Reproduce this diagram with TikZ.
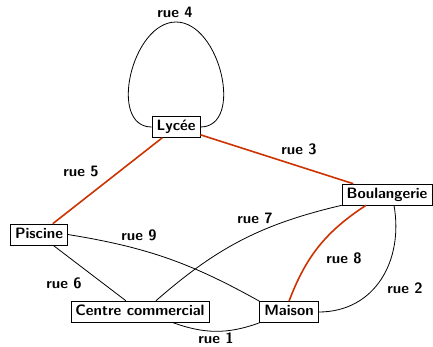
\documentclass[tikz,border=0pt]{standalone}
\begin{document}
\begin{tikzpicture}[x=1pt,y=-1pt,
  place/.style={draw,line width=0.8pt,fill=white,inner xsep=4.5pt,inner ysep=3.5pt,text height=10.8pt,text depth=3pt,font=\fontsize{15}{17}\sffamily\bfseries},
  lbl/.style={font=\fontsize{15}{17}\sffamily\bfseries},
  road/.style={line width=0.8pt},
  hot/.style={line width=1.6pt,draw={rgb,255:red,204;green,51;blue,0}}]
\useasboundingbox (0,0) rectangle (433,346);
\node[place] (ly) at (176,127) {Lycée};
\node[place] (bo) at (387,194.5) {Boulangerie};
\node[place] (pi) at (39,234.5) {Piscine};
\node[place] (cc) at (140,311.5) {Centre commercial};
\node[place] (ma) at (289,312) {Maison};
\coordinate (top) at (176,22);
% edges
\draw[road] (ly.west) to[out=180,in=180,looseness=1.05] (top) to[out=0,in=0,looseness=1.05] (ly.east);
\draw[hot] (ly) -- (pi);
\draw[hot] (ly) -- (bo);
\draw[road] (pi) -- (cc);
\draw[road] (pi.east) to[bend left=10] (ma.north west);
\draw[road] ([xshift=16pt]cc.north) to[bend left=14] (bo.south west);
\draw[hot] (ma.north) to[bend left=18] ([xshift=-21pt]bo.south);
\draw[road] ([xshift=7pt]bo.south) to[out=-80,in=0,looseness=1.1] (ma.east);
\draw[road] ([xshift=32pt]cc.south) to[out=-20,in=-160] (ma.south west);
% labels
\node[lbl] (l4) at (175,12) {rue 4};
\node[lbl] (l3) at (299,149) {rue 3};
\node[lbl] (l5) at (81,171) {rue 5};
\node[lbl] (l6) at (64,283) {rue 6};
\node[lbl] (l9) at (139,235) {rue 9};
\node[lbl] (l7) at (255,218) {rue 7};
\node[lbl] (l8) at (344,258) {rue 8};
\node[lbl] (l2) at (405,288) {rue 2};
\node[lbl] (l1) at (216,338.5) {rue 1};
\end{tikzpicture}
\end{document}
